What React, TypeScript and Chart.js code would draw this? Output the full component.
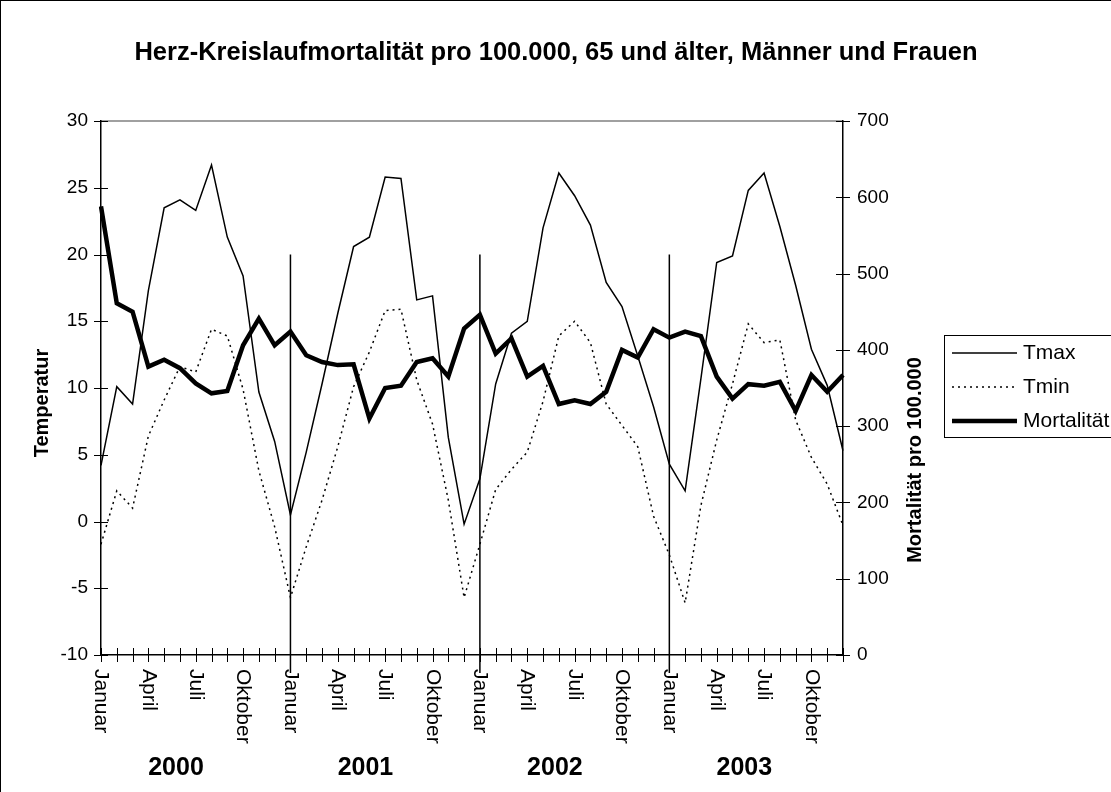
import React, { useEffect, useRef } from "react";
import { Chart, registerables } from "chart.js";

Chart.register(...registerables);

const years = ["2000", "2001", "2002", "2003"];
const monthNames = ["Januar", "Februar", "März", "April", "Mai", "Juni", "Juli", "August", "September", "Oktober", "November", "Dezember"];
const monthTickLabels = ["Januar", "", "", "April", "", "", "Juli", "", "", "Oktober", "", ""];
const categories = years.flatMap((y) => monthNames.map((m) => `${m} ${y}`));
const tickLabels = years.flatMap(() => monthTickLabels);

const tmax = [
  4.2, 10.1, 8.8, 17.3, 23.5, 24.1, 23.3, 26.7, 21.3, 18.4, 9.7, 6.0,
  0.5, 5.2, 10.3, 15.6, 20.6, 21.3, 25.8, 25.7, 16.6, 16.9, 6.3, -0.2,
  3.2, 10.3, 14.1, 15.0, 22.0, 26.1, 24.4, 22.2, 17.9, 16.1, 12.4, 8.6,
  4.3, 2.3, 10.7, 19.4, 19.9, 24.8, 26.1, 22.1, 17.7, 12.9, 10.2, 5.3,
];
const tmin = [
  -1.7, 2.3, 1.0, 6.4, 9.1, 11.6, 11.2, 14.4, 13.9, 9.9, 3.8, -0.4,
  -5.7, -1.9, 1.6, 5.6, 10.1, 12.7, 15.8, 15.9, 10.6, 7.3, 1.6, -5.7,
  -1.7, 2.4, 3.9, 5.2, 9.0, 13.9, 15.0, 13.4, 8.8, 7.2, 5.6, 0.4,
  -2.5, -6.1, 1.2, 6.1, 10.3, 14.8, 13.4, 13.6, 7.6, 4.8, 2.8, -0.3,
];
const mortality = [
  588, 461, 450, 378, 387, 376, 356, 343, 346, 406, 441, 406,
  424, 393, 384, 380, 381, 310, 350, 353, 384, 389, 365, 428,
  446, 395, 415, 365, 379, 329, 334, 329, 345, 400, 390, 427,
  416, 424, 418, 365, 336, 355, 353, 358, 320, 367, 345, 367,
];

const yearStartIndices = [12, 24, 36];
const dividerTopValue = 20;
const yearLabelOffset = 4.75;

const title = "Herz-Kreislaufmortalität pro 100.000, 65 und älter, Männer und Frauen";
const leftTitle = "Temperatur";
const rightTitle = "Mortalität pro 100.000";

const FONT = "'Liberation Sans', Arial, sans-serif";

const customPlugin = {
  id: "custom",
  beforeDraw(chart: any) {
    const { ctx, chartArea: a } = chart;
    ctx.save();
    ctx.strokeStyle = "#808080";
    ctx.lineWidth = 1.5;
    ctx.beginPath();
    ctx.moveTo(a.left, a.top);
    ctx.lineTo(a.right, a.top);
    ctx.stroke();
    ctx.restore();
  },
  afterDraw(chart: any) {
    const { ctx, chartArea: a } = chart;
    const xs = chart.scales.x;
    const yl = chart.scales.y;
    const yr = chart.scales.y1;
    ctx.save();
    ctx.fillStyle = "#000";
    ctx.strokeStyle = "#000";

    // crossing tick marks
    ctx.lineWidth = 1;
    ctx.beginPath();
    for (let i = 0; i < categories.length; i++) {
      const x = Math.round(xs.getPixelForValue(i)) + 0.5;
      ctx.moveTo(x, a.bottom - 7);
      ctx.lineTo(x, a.bottom + 7);
    }
    yl.ticks.forEach((t: any) => {
      const y = Math.round(yl.getPixelForValue(t.value)) + 0.5;
      ctx.moveTo(a.left - 7, y);
      ctx.lineTo(a.left + 7, y);
    });
    yr.ticks.forEach((t: any) => {
      const y = Math.round(yr.getPixelForValue(t.value)) + 0.5;
      ctx.moveTo(a.right - 7, y);
      ctx.lineTo(a.right + 7, y);
    });
    ctx.stroke();

    // year dividers
    ctx.lineWidth = 1.5;
    ctx.beginPath();
    yearStartIndices.forEach((idx) => {
      const x = xs.getPixelForValue(idx);
      ctx.moveTo(x, yl.getPixelForValue(dividerTopValue));
      ctx.lineTo(x, a.bottom + 18);
    });
    ctx.stroke();

    // y tick labels
    ctx.font = `19px ${FONT}`;
    ctx.textBaseline = "middle";
    ctx.textAlign = "right";
    yl.ticks.forEach((t: any) => {
      ctx.fillText(String(t.value), a.left - 13, yl.getPixelForValue(t.value));
    });
    ctx.textAlign = "left";
    yr.ticks.forEach((t: any) => {
      ctx.fillText(String(t.value), a.right + 14, yr.getPixelForValue(t.value));
    });

    // month labels rotated clockwise
    ctx.font = `21px ${FONT}`;
    tickLabels.forEach((lab, i) => {
      if (!lab) return;
      ctx.save();
      ctx.translate(xs.getPixelForValue(i), a.bottom + 14);
      ctx.rotate(Math.PI / 2);
      ctx.textAlign = "left";
      ctx.textBaseline = "middle";
      ctx.fillText(lab, 0, 0);
      ctx.restore();
    });

    // year labels
    ctx.font = `bold 25px ${FONT}`;
    ctx.textAlign = "center";
    ctx.textBaseline = "middle";
    years.forEach((yr2, k) => {
      ctx.fillText(yr2, xs.getPixelForValue(k * 12 + yearLabelOffset), 768);
    });

    // chart title
    ctx.font = `bold 25.5px ${FONT}`;
    ctx.fillText(title, 556, 53);

    // axis titles
    ctx.font = `bold 20px ${FONT}`;
    ctx.save();
    ctx.translate(42, 403);
    ctx.rotate(-Math.PI / 2);
    ctx.fillText(leftTitle, 0, 0);
    ctx.restore();
    ctx.save();
    ctx.translate(915, 460);
    ctx.rotate(-Math.PI / 2);
    ctx.fillText(rightTitle, 0, 0);
    ctx.restore();

    // legend
    const lx = 944, ly = 335, lh = 102;
    ctx.lineWidth = 1;
    ctx.strokeStyle = "#000";
    ctx.strokeRect(lx + 0.5, ly + 0.5, 200, lh);
    ctx.font = `21px ${FONT}`;
    ctx.textAlign = "left";
    ctx.textBaseline = "middle";
    chart.data.datasets.forEach((ds: any, i: number) => {
      const y = ly + 18 + i * 34;
      ctx.save();
      ctx.lineWidth = ds.borderWidth;
      ctx.setLineDash(ds.borderDash || []);
      ctx.beginPath();
      ctx.moveTo(lx + 8, y);
      ctx.lineTo(lx + 73, y);
      ctx.stroke();
      ctx.restore();
      ctx.fillText(ds.label, lx + 79, y);
    });
    ctx.restore();
  },
};

export default function App() {
  const ref = useRef<HTMLCanvasElement | null>(null);
  useEffect(() => {
    if (!ref.current) return;
    const chart = new Chart(ref.current, {
      type: "line",
      data: {
        labels: categories,
        datasets: [
          { label: "Tmax", data: tmax, borderColor: "#000", borderWidth: 1.5, pointRadius: 0, tension: 0, yAxisID: "y", order: 1, fill: false },
          { label: "Tmin", data: tmin, borderColor: "#000", borderWidth: 1.5, borderDash: [2, 4], pointRadius: 0, tension: 0, yAxisID: "y", order: 2, fill: false },
          { label: "Mortalität", data: mortality, borderColor: "#000", borderWidth: 4.5, pointRadius: 0, tension: 0, yAxisID: "y1", order: 0, fill: false },
        ],
      },
      options: {
        responsive: false,
        animation: false,
        devicePixelRatio: 1,
        layout: { padding: { top: 121, left: 0, right: 0, bottom: 0 } },
        plugins: { legend: { display: false }, title: { display: false }, tooltip: { enabled: false } },
        scales: {
          x: {
            type: "category",
            offset: false,
            grid: { display: false },
            border: { display: true, color: "#000", width: 1.5 },
            ticks: { display: false, autoSkip: false },
            afterFit: (s: any) => { s.height = 137; },
          },
          y: {
            position: "left",
            min: -10,
            max: 30,
            grid: { display: false },
            border: { display: true, color: "#000", width: 1.5 },
            ticks: { display: false, stepSize: 5 },
            afterFit: (s: any) => { s.width = 101; },
          },
          y1: {
            position: "right",
            min: 0,
            max: 700,
            grid: { display: false },
            border: { display: true, color: "#000", width: 1.5 },
            ticks: { display: false, stepSize: 100 },
            afterFit: (s: any) => { s.width = 268; },
          },
        },
      },
      plugins: [customPlugin],
    });
    return () => chart.destroy();
  }, []);
  return (
    <div style={{ position: "absolute", left: 0, top: 0, width: 1111, height: 792, overflow: "hidden", background: "#fff" }}>
      <div style={{ position: "absolute", left: 0, top: 0, width: 1111, height: 792, boxSizing: "border-box", borderLeft: "1px solid #000", borderTop: "1px solid #000" }} />
      <canvas ref={ref} width={1111} height={792} style={{ position: "absolute", left: 0, top: 0 }} />
    </div>
  );
}
